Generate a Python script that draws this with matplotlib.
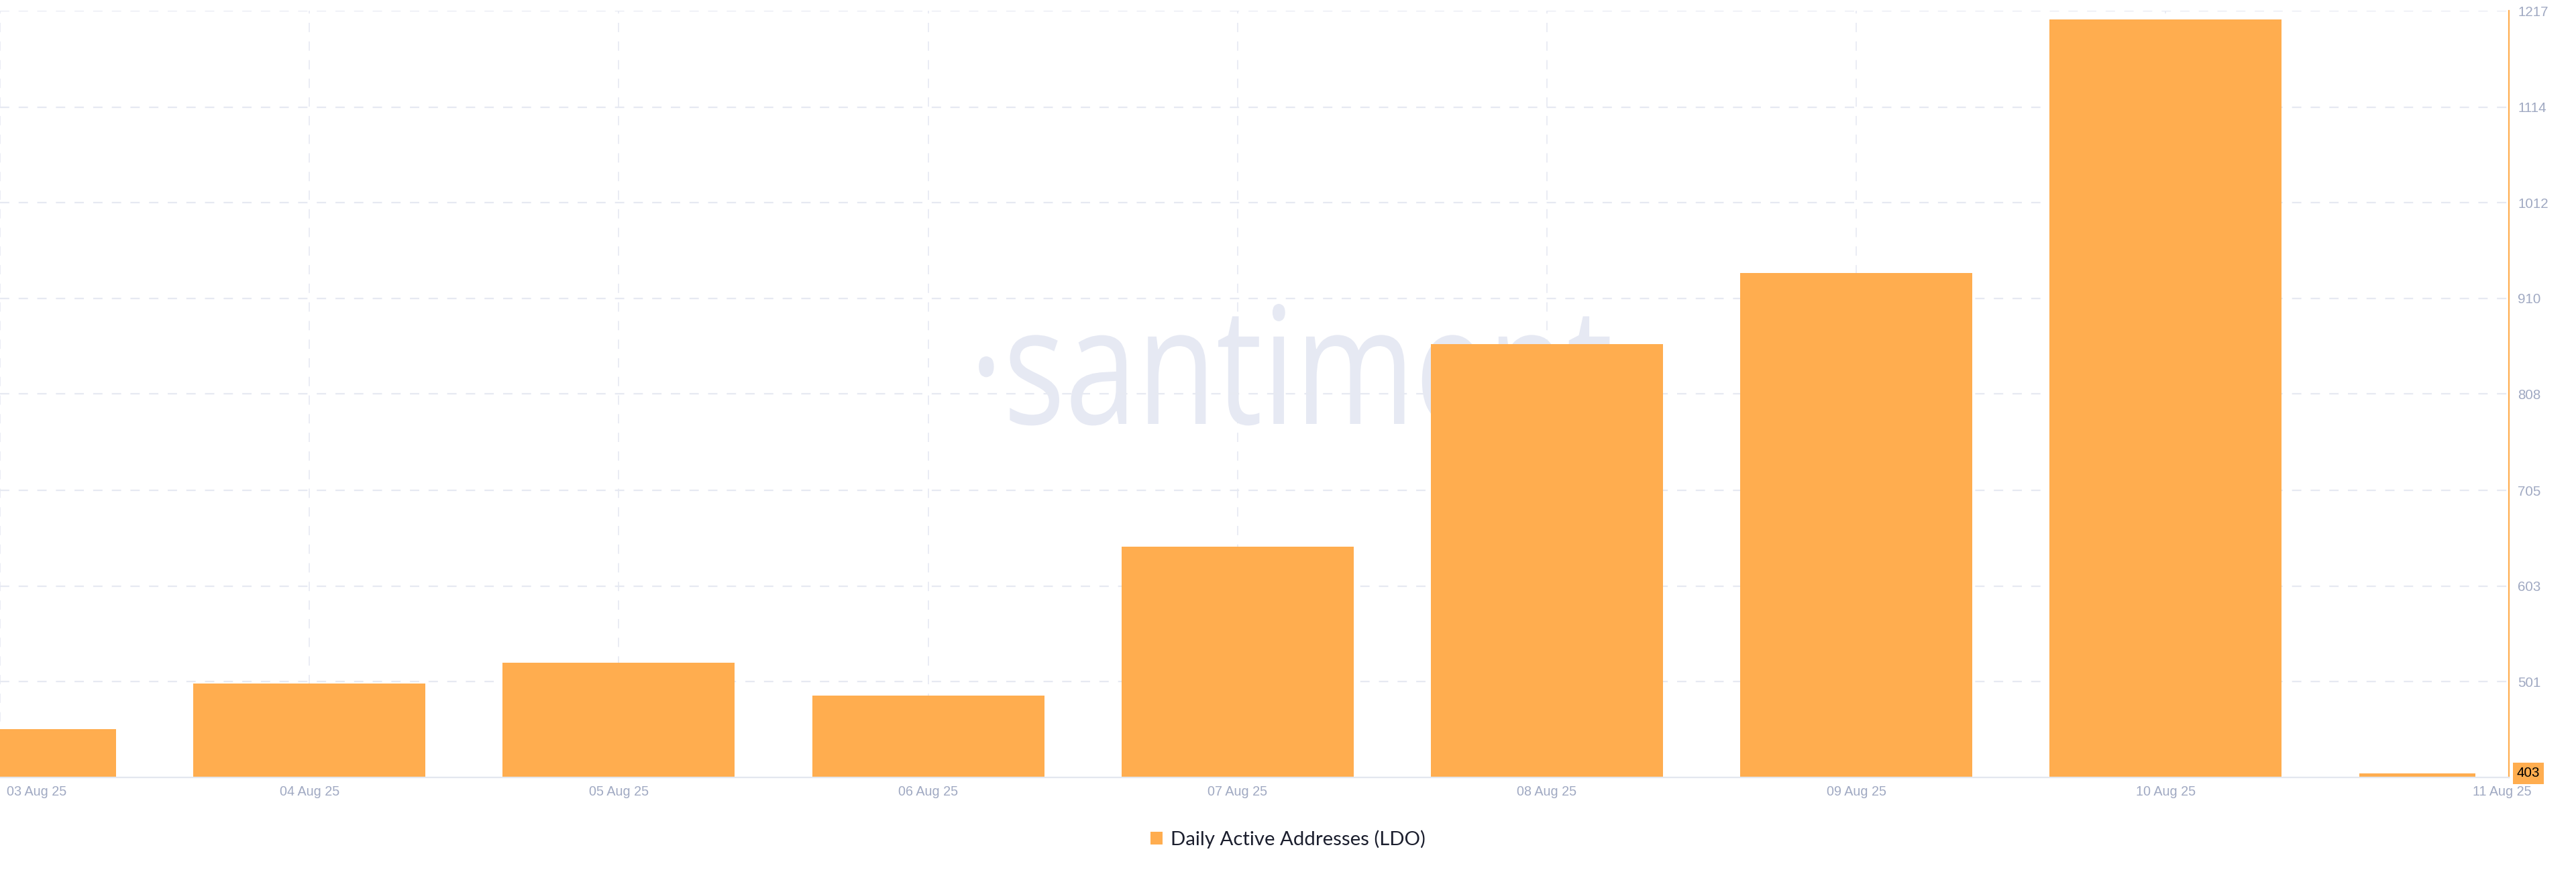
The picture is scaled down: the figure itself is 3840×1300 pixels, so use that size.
import matplotlib
matplotlib.use("Agg")
import matplotlib.pyplot as plt
from matplotlib.textpath import TextPath
from matplotlib.patches import PathPatch
from matplotlib.font_manager import FontProperties
from matplotlib.transforms import Affine2D, ScaledTranslation, blended_transform_factory

plt.rcParams["lines.scale_dashes"] = False

# data
dates = ["03 Aug 25", "04 Aug 25", "05 Aug 25", "06 Aug 25", "07 Aug 25",
         "08 Aug 25", "09 Aug 25", "10 Aug 25", "11 Aug 25"]
active_addresses = [450, 499, 521, 486, 645, 861, 937, 1208, 403]
y_ticks = [501, 603, 705, 808, 910, 1012, 1114, 1217]
y_min, y_max = 398.7, 1217
last_value = 403

ORANGE = "#ffad4f"
GRID = "#e6e9f2"
TICK = "#a0a9c2"

W, H = 3840, 1300
fig = plt.figure(figsize=(W / 100, H / 100), dpi=100)
ax = fig.add_axes([0, 141 / H, 3740 / W, 1143 / H])

x = list(range(len(dates)))
bar_w = 0.75

# grid lines (behind bars)
ax.hlines(y_ticks, 0, 1, transform=blended_transform_factory(ax.transAxes, ax.transData),
          colors=GRID, linewidth=1.6, linestyles=(0, (10, 10)), zorder=1)
ax.vlines(x[:-1], y_min, y_max, colors=GRID, linewidth=1.2,
          linestyles=(0, (10, 10)), zorder=1)

# bars; last day is only a partial bar
ax.bar(x[:-1], active_addresses[:-1], width=bar_w, color=ORANGE, zorder=2,
       label="Daily Active Addresses (LDO)")
ax.bar(x[-1], active_addresses[-1], width=-bar_w / 2, align="edge", color=ORANGE, zorder=2)

ax.set_xlim(0, 3740 / 461.2)
ax.set_ylim(y_min, y_max)

# watermark
tp = TextPath((0, 0), "\u00b7santiment", size=100, prop=FontProperties(family="Open Sans"))
v = tp.vertices
xmin, xmax, ymax = v[:, 0].min(), v[:, 0].max(), v[:, 1].max()
sx = (2400 - 1445) / (xmax - xmin)
sy = (632 - 453) / ymax
trf = (Affine2D().translate(-xmin, 0).scale(sx, sy).translate(1445, H - 632)
       .scale(1 / W, 1 / H)) + fig.transFigure
wm = PathPatch(tp, transform=trf, facecolor="#e6e9f3", edgecolor="none", zorder=0.5)
ax.add_artist(wm)

# spines
for s in ["top", "left"]:
    ax.spines[s].set_visible(False)
ax.spines["right"].set_color(ORANGE)
ax.spines["right"].set_linewidth(1.6)
ax.spines["bottom"].set_color("#e3e7ef")
ax.spines["bottom"].set_linewidth(1.6)

# ticks
ax.yaxis.tick_right()
ax.set_yticks(y_ticks, [str(t) for t in y_ticks])
ax.tick_params(axis="y", length=0, pad=9.4, labelsize=14.8, labelcolor=TICK)
ax.set_xticks(x, dates)
ax.tick_params(axis="x", length=0, pad=9, labelsize=14.2, labelcolor=TICK)
for lab in ax.get_yticklabels() + ax.get_xticklabels():
    lab.set_fontfamily("Liberation Sans")

xl = ax.get_xticklabels()
xl[0].set_ha("left")
xl[0].set_transform(xl[0].get_transform() + ScaledTranslation(10 / 100, 0, fig.dpi_scale_trans))
xl[-1].set_transform(xl[-1].get_transform() + ScaledTranslation(40 / 100, 0, fig.dpi_scale_trans))

# current value tag
ax.annotate(str(last_value), xy=(1, last_value), xycoords=("axes fraction", "data"),
            xytext=(8.6, 0), textcoords="offset points", ha="left", va="center",
            fontsize=14.8, family="Liberation Sans", color="black", zorder=5,
            annotation_clip=False,
            bbox=dict(boxstyle="square,pad=0.3", fc=ORANGE, ec="none"))

# legend
leg = fig.legend(loc="center", bbox_to_anchor=(1920 / W, (H - 1251) / H),
                 frameon=False, fontsize=21.2, handlelength=0.62, handleheight=0.62,
                 handletextpad=0.39)
for t in leg.get_texts():
    t.set_fontfamily("Lato")
    t.set_color("#1c1f2e")

fig.savefig("out.png", dpi=100)
